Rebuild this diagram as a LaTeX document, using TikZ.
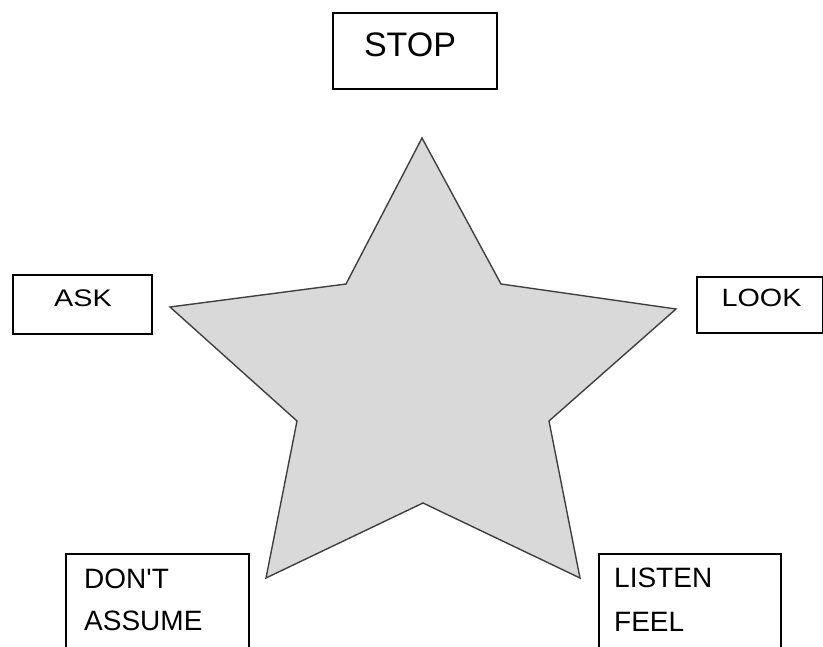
\documentclass[tikz,border=0pt]{standalone}
\usepackage{fontspec}
\setmainfont[Ligatures=TeXOff]{Liberation Sans}
\definecolor{starfill}{HTML}{D9D9D9}
\definecolor{starline}{HTML}{404040}
\begin{document}
\begin{tikzpicture}[x=1pt,y=-1pt,
  box/.style={draw=black,line width=2pt,inner sep=0pt,rectangle},
  lbl/.style={inner sep=0pt,font=\fontsize{28}{41}\selectfont},
  star/.style={draw=starline,fill=starfill,line width=1.4pt,line join=miter}]
\useasboundingbox (0,0) rectangle (823,647);
\clip (0,0) rectangle (823,647);
% star
\coordinate (t1) at (422,138);
\coordinate (i1) at (501,284);
\coordinate (t2) at (676,309);
\coordinate (i2) at (549,421);
\coordinate (t3) at (580,578);
\coordinate (i3) at (423,503);
\coordinate (t4) at (266,578);
\coordinate (i4) at (297,421);
\coordinate (t5) at (170,307);
\coordinate (i5) at (346,284);
\draw[star] (t1) -- (i1) -- (t2) -- (i2) -- (t3) -- (i3) -- (t4) -- (i4) -- (t5) -- (i5) -- cycle;
% boxes
\node[box,minimum width=164pt,minimum height=76pt] (stopbox) at (415,51) {};
\node[box,minimum width=139pt,minimum height=59pt] (askbox) at (82.5,304.5) {};
\node[box,minimum width=126pt,minimum height=56pt] (lookbox) at (760,305) {};
\node[box,minimum width=183pt,minimum height=140pt,anchor=north west] (dontbox) at (65,553) {};
\node[box,minimum width=182pt,minimum height=140pt,anchor=north west] (listenbox) at (598,553) {};
% texts
\node[lbl,anchor=base,font=\fontsize{34}{40}\selectfont] (stoptxt) at (410,57) {STOP};
\node[lbl,anchor=base] (asktxt) at (83,307) {\scalebox{1.2}[1]{\fontsize{24}{30}\selectfont ASK}};
\node[lbl,anchor=base] (looktxt) at (761.5,307) {\scalebox{1.15}[1]{\fontsize{25}{30}\selectfont LOOK}};
\node[lbl,anchor=base west] (donttxt) at (84,588) {DON'T};
\node[lbl,anchor=base west] (assumetxt) at (84,630) {ASSUME};
\node[lbl,anchor=base west] (listentxt) at (614,587) {LISTEN};
\node[lbl,anchor=base west] (feeltxt) at (614,631) {FEEL};
\end{tikzpicture}
\end{document}
